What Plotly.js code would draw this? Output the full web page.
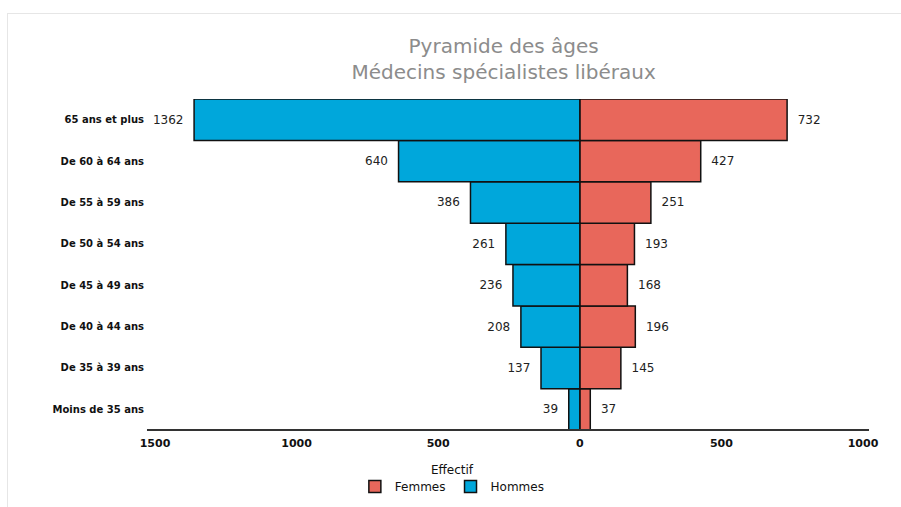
<!DOCTYPE html>
<html>
<head>
<meta charset="utf-8">
<script src="https://cdn.plot.ly/plotly-3.0.1.min.js"></script>
<style>
html, body { margin: 0; padding: 0; background: #fff; }
#frame { position: absolute; left: 7px; top: 13px; width: 900px; height: 500px; border-left: 1px solid #e6e6e6; border-top: 1px solid #e6e6e6; }
#chart { position: absolute; left: 0; top: 0; width: 901px; height: 507px; }
</style>
</head>
<body>
<div id="frame"></div>
<div id="chart"></div>
<script>
// Data (bottom to top)
var categories = ["Moins de 35 ans", "De 35 à 39 ans", "De 40 à 44 ans", "De 45 à 49 ans",
                  "De 50 à 54 ans", "De 55 à 59 ans", "De 60 à 64 ans", "65 ans et plus"];
var hommes = [39, 137, 208, 236, 261, 386, 640, 1362];
var femmes = [37, 145, 196, 168, 193, 251, 427, 732];
var tickValues = [-1500, -1000, -500, 0, 500, 1000];
var tickLabels = ["1500", "1000", "500", "0", "500", "1000"];

var blue = "#00a7db";
var red = "#e8675b";
var FONT = "DejaVu Sans, Verdana, sans-serif";

var traceF = {
  type: "bar", orientation: "h", name: "Femmes",
  y: categories, x: femmes,
  text: femmes.map(String),
  texttemplate: "\u00a0\u00a0%{text}",
  textposition: "outside",
  textfont: { family: FONT, size: 12, color: "#222" },
  marker: { color: red, line: { color: "#111", width: 1.5 } },
  cliponaxis: false,
  hoverinfo: "skip"
};
var traceH = {
  type: "bar", orientation: "h", name: "Hommes",
  y: categories, x: hommes.map(function (v) { return -v; }),
  text: hommes.map(String),
  texttemplate: "%{text}\u00a0\u00a0",
  textposition: "outside",
  textfont: { family: FONT, size: 12, color: "#222" },
  marker: { color: blue, line: { color: "#111", width: 1.5 } },
  cliponaxis: false,
  hoverinfo: "skip"
};

var layout = {
  width: 901, height: 507,
  paper_bgcolor: "rgba(0,0,0,0)", plot_bgcolor: "rgba(0,0,0,0)",
  margin: { l: 155, r: 38, t: 99, b: 77, autoexpand: false },
  barmode: "relative",
  bargap: 0,
  title: {
    text: "Pyramide des âges<br>Médecins spécialistes libéraux",
    font: { family: FONT, size: 20, color: "#8c8c8c" },
    x: 0.559, xanchor: "center", y: 0.896, yanchor: "top"
  },
  xaxis: {
    range: [-1500, 1000],
    tickmode: "array", tickvals: tickValues, ticktext: tickLabels,
    showgrid: false, zeroline: false,
    showline: false,
    ticks: "", ticklabelstandoff: 5,
    tickfont: { family: FONT, size: 11, color: "#111", weight: "bold" },
    automargin: false,
    fixedrange: true
  },
  yaxis: {
    type: "category",
    categoryorder: "array", categoryarray: categories,
    range: [-0.5, 7.5],
    showgrid: false, zeroline: false, showline: false,
    ticks: "", ticklabelstandoff: 10,
    tickfont: { family: FONT, size: 10, color: "#111", weight: "bold" },
    automargin: false,
    fixedrange: true
  },
  shapes: [{
    type: "line", xref: "paper", yref: "paper",
    x0: -8 / 707, x1: 1 + 6 / 707, y0: 0, y1: 0,
    line: { color: "#333", width: 2 }
  }],
  showlegend: true,
  legend: {
    orientation: "h", x: 0.42, xanchor: "center", y: -0.127, yanchor: "top",
    font: { family: FONT, size: 12, color: "#111" },
    itemwidth: 30, tracegroupgap: 0, bgcolor: "rgba(0,0,0,0)"
  },
  annotations: [{
    text: "Effectif", xref: "paper", yref: "paper", x: 0.42, y: -0.095,
    xanchor: "center", yanchor: "top", showarrow: false,
    font: { family: FONT, size: 12, color: "#111" }
  }]
};

Plotly.newPlot("chart", [traceF, traceH], layout, { displayModeBar: false, staticPlot: true });
</script>
</body>
</html>
